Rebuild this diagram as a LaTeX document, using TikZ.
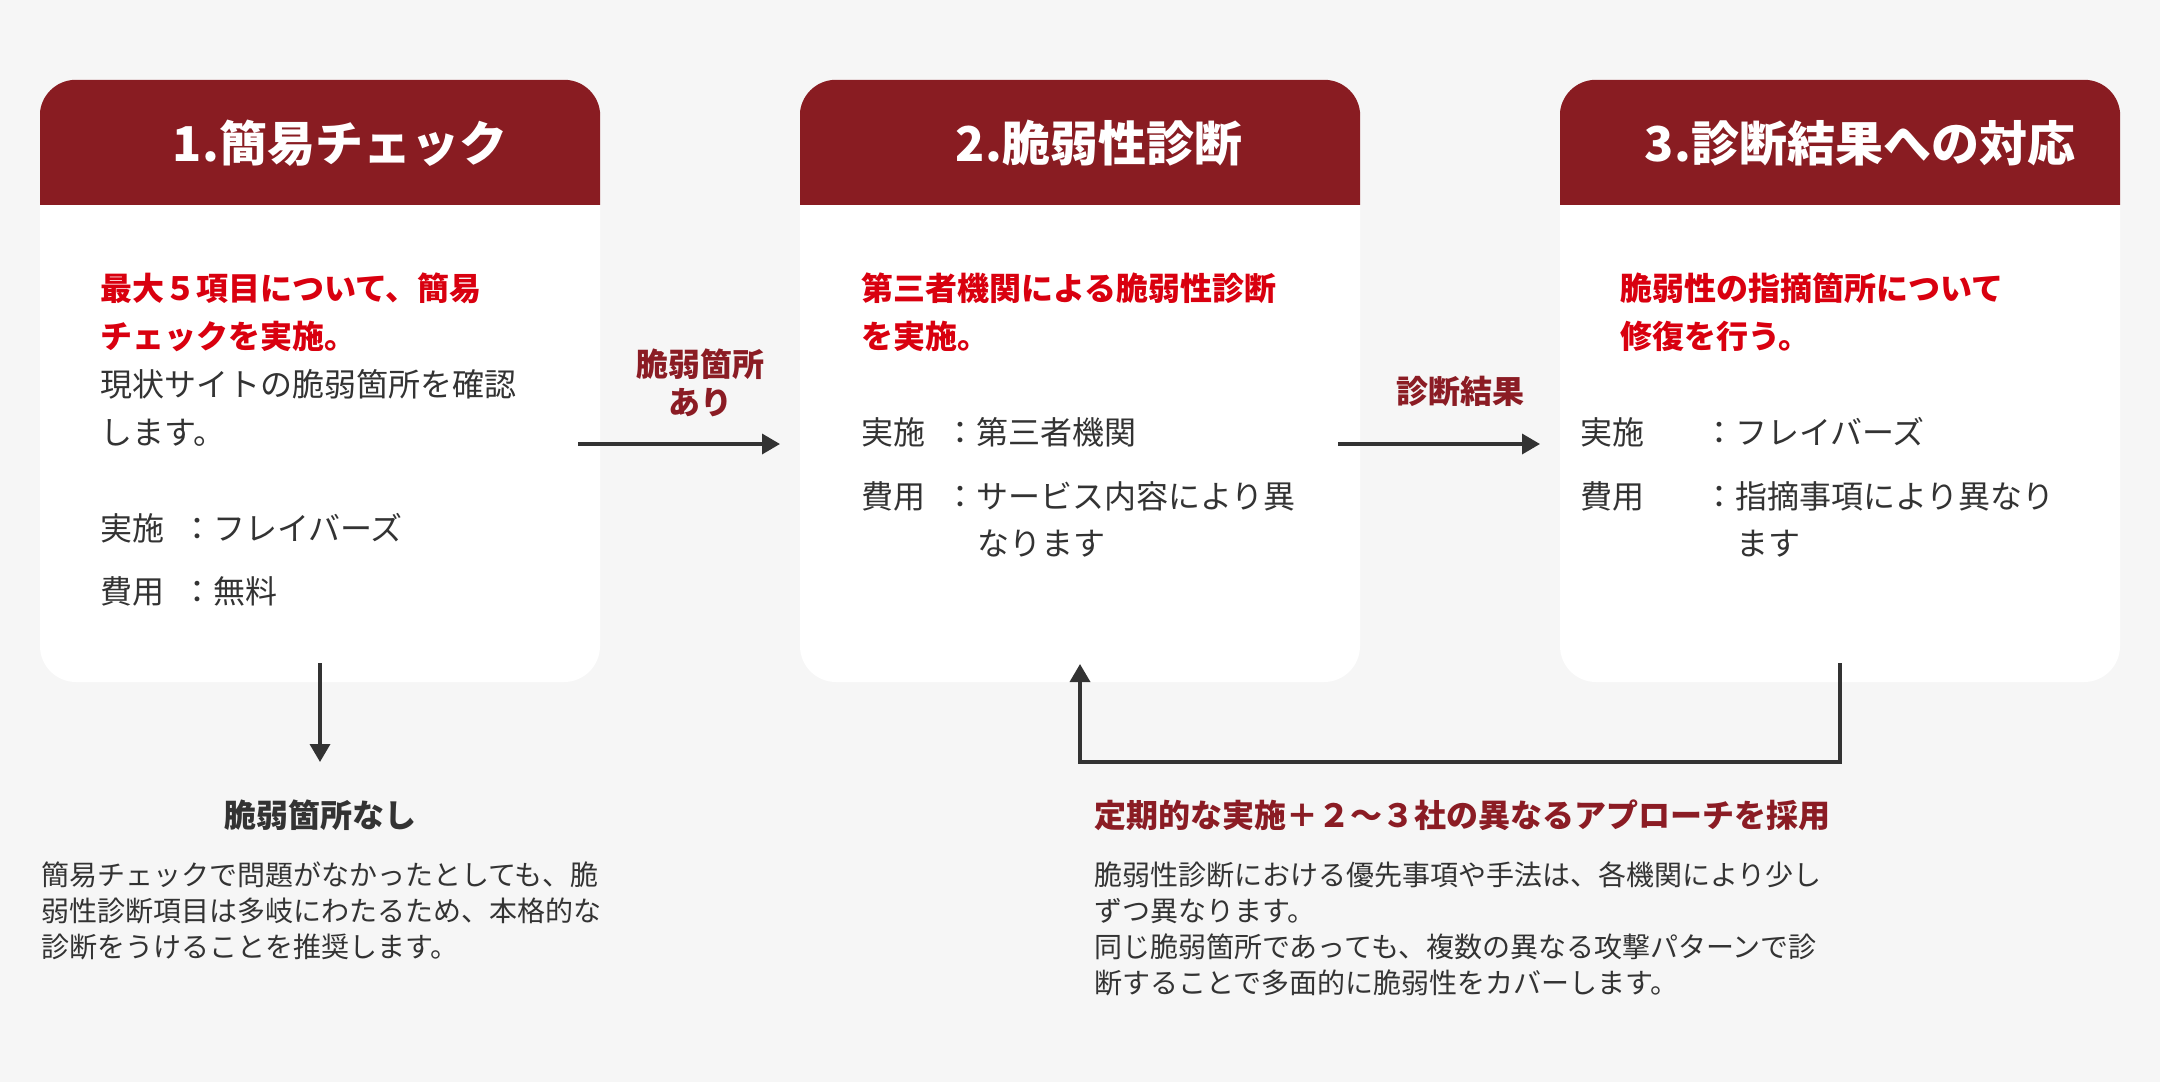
\documentclass[tikz,border=0pt]{standalone}
\usepackage{fontspec}
\setmainfont{Noto Sans CJK JP}
\usetikzlibrary{arrows.meta}
\definecolor{bgc}{HTML}{F6F6F6}
\definecolor{hdr}{HTML}{891C22}
\definecolor{redt}{HTML}{D9000F}
\definecolor{lbl}{HTML}{8B1C24}
\definecolor{dk}{HTML}{333333}
\begin{document}
\begin{tikzpicture}[x=1pt,y=-1pt,
  card/.style={fill=white, rounded corners=36pt, minimum width=560pt, minimum height=602pt, inner sep=0pt, draw=none},
  ttl/.style={font=\fontsize{48}{56}\selectfont\bfseries, text=white, inner sep=0pt, text height=42.2pt, text depth=5.8pt},
  tx32/.style={inner sep=0pt, text height=28.2pt, text depth=3.8pt},
  body/.style={tx32, anchor=west, font=\fontsize{32}{40}\selectfont, text=dk},
  hl/.style={tx32, anchor=west, font=\fontsize{32}{40}\selectfont\bfseries, text=redt},
  lab/.style={tx32, font=\fontsize{32}{38}\selectfont\bfseries, text=lbl},
  sub/.style={tx32, font=\fontsize{32}{38}\selectfont\bfseries},
  para/.style={inner sep=0pt, text height=24.6pt, text depth=3.4pt, anchor=west, font=\fontsize{28}{36}\selectfont, text=dk},
  arr/.style={draw=dk, line width=3.5pt, line join=miter, -{Triangle[length=18pt,width=20pt]}},
]
\useasboundingbox (0,0) rectangle (2160,1082);
\fill[bgc] (0,0) rectangle (2160,1082);

% cards
\node[card] (c1) at (320,381) {};
\node[card] (c2) at (1080,381) {};
\node[card] (c3) at (1840,381) {};
\foreach \c/\xl in {c1/40,c2/800,c3/1560}{
  \begin{scope}
    \clip (\xl,70) rectangle (\xl+570,204);
    \fill[hdr, rounded corners=36pt] (\c.north west) rectangle (\c.south east);
  \end{scope}
}

% titles
\node[ttl] (t1) at (340,143) {1.簡易チェック};
\node[ttl] (t2) at (1099,143) {2.脆弱性診断};
\node[ttl] (t3) at (1860,143) {3.診断結果への対応};

% card 1 text
\node[hl] (c1r1) at (100,288) {最大５項目について、簡易};
\node[hl] (c1r2) at (100,336) {チェックを実施。};
\node[body] (c1b1) at (100,384) {現状サイトの脆弱箇所を確認};
\node[body] (c1b2) at (100,432) {します。};
\node[body] (c1k1) at (100,528) {実施};
\node[body] (c1v1) at (181,528) {：フレイバーズ};
\node[body] (c1k2) at (100,591) {費用};
\node[body] (c1v2) at (181,591) {：無料};

% card 2 text
\node[hl] (c2r1) at (861,288) {第三者機関による脆弱性診断};
\node[hl] (c2r2) at (861,336) {を実施。};
\node[body] (c2k1) at (861,432) {実施};
\node[body] (c2v1) at (944,432) {：第三者機関};
\node[body] (c2k2) at (861,496) {費用};
\node[body] (c2v2) at (944,496) {：サービス内容により異};
\node[body] (c2v3) at (977,543) {なります};

% card 3 text
\node[hl] (c3r1) at (1620,288) {脆弱性の指摘箇所について};
\node[hl] (c3r2) at (1620,336) {修復を行う。};
\node[body] (c3k1) at (1580,432) {実施};
\node[body] (c3v1) at (1703,432) {：フレイバーズ};
\node[body] (c3k2) at (1580,496) {費用};
\node[body] (c3v2) at (1703,496) {：指摘事項により異なり};
\node[body] (c3v3) at (1736,543) {ます};

% arrow labels
\node[lab] (l1a) at (700,364) {脆弱箇所};
\node[lab] (l1b) at (700,402) {あり};
\node[lab] (l2) at (1460,391) {診断結果};

% arrows
\coordinate (a1s) at (578,444);
\coordinate (a1e) at (780,444);
\coordinate (a2s) at (1338,444);
\coordinate (a2e) at (1540,444);
\coordinate (d1s) at (320,663);
\coordinate (d1e) at (320,762);
\coordinate (f1) at (1840,663);
\coordinate (f2) at (1080,762);
\coordinate (f3) at (1080,664);
\draw[arr] (a1s) -- (a1e);
\draw[arr] (a2s) -- (a2e);
\draw[arr] (d1s) -- (d1e);
\draw[arr] (f1) |- (f2) -- (f3);

% bottom left
\node[sub, text=dk] (n1) at (320,815) {脆弱箇所なし};
\node[para] (p1a) at (41,875) {簡易チェックで問題がなかったとしても、脆};
\node[para] (p1b) at (41,911) {弱性診断項目は多岐にわたるため、本格的な};
\node[para] (p1c) at (41,947) {診断をうけることを推奨します。};

% bottom right
\node[sub, text=lbl, anchor=west] (n2) at (1094,815) {定期的な実施＋２〜３社の異なるアプローチを採用};
\node[para] (p2a) at (1094,875) {脆弱性診断における優先事項や手法は、各機関により少し};
\node[para] (p2b) at (1094,911) {ずつ異なります。};
\node[para] (p2c) at (1094,947) {同じ脆弱箇所であっても、複数の異なる攻撃パターンで診};
\node[para] (p2d) at (1094,983) {断することで多面的に脆弱性をカバーします。};
\end{tikzpicture}
\end{document}
